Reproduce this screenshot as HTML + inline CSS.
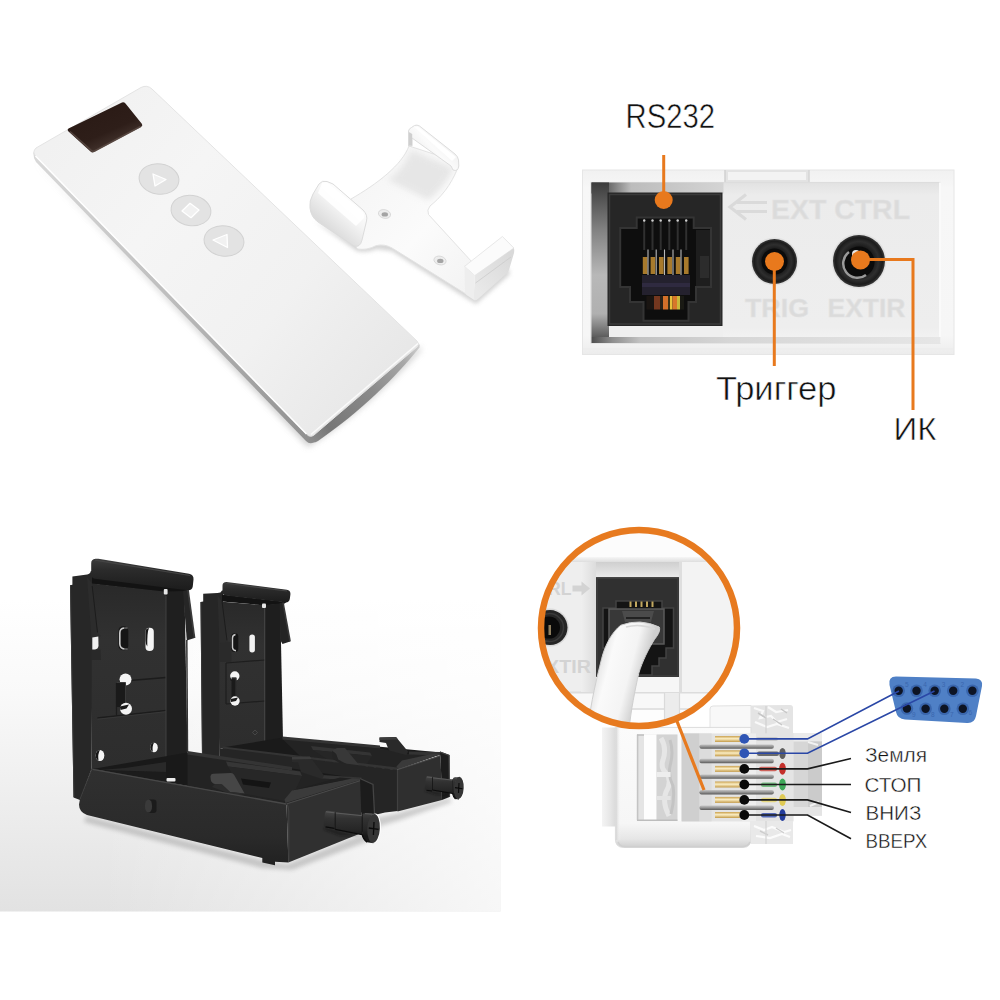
<!DOCTYPE html>
<html lang="ru">
<head>
<meta charset="utf-8">
<title>Пульт, кронштейны и разъёмы управления</title>
<style>
html,body{margin:0;padding:0;background:#fff;}
body{width:1000px;height:1000px;overflow:hidden;font-family:"Liberation Sans","DejaVu Sans",sans-serif;}
svg{display:block;}
text{font-family:"Liberation Sans","DejaVu Sans",sans-serif;}
</style>
</head>
<body>
<svg width="1000" height="1000" viewBox="0 0 1000 1000">
<rect width="1000" height="1000" fill="#fff"/>
<!-- ===== Q1: remote control and wall clip ===== -->
<defs>
<linearGradient id="rTop" gradientUnits="userSpaceOnUse" x1="60" y1="130" x2="400" y2="400">
<stop offset="0" stop-color="#f1f1f1"/><stop offset=".3" stop-color="#f5f5f5"/><stop offset=".65" stop-color="#f1f1f1"/><stop offset="1" stop-color="#e6e6e6"/>
</linearGradient>
<linearGradient id="rSide" gradientUnits="userSpaceOnUse" x1="35" y1="155" x2="311" y2="440">
<stop offset="0" stop-color="#d9d9d9"/><stop offset=".5" stop-color="#bdbdbd"/><stop offset="1" stop-color="#8f8f8f"/>
</linearGradient>
<linearGradient id="rEnd" gradientUnits="userSpaceOnUse" x1="311" y1="440" x2="420" y2="348">
<stop offset="0" stop-color="#8c8c8c"/><stop offset=".15" stop-color="#777777"/><stop offset=".55" stop-color="#8a8a8a"/><stop offset=".85" stop-color="#a8a8a8"/><stop offset="1" stop-color="#cfcfcf"/>
</linearGradient>
<linearGradient id="rScreen" gradientUnits="userSpaceOnUse" x1="95" y1="105" x2="115" y2="150">
<stop offset="0" stop-color="#2a1a15"/><stop offset=".6" stop-color="#2e1e19"/><stop offset="1" stop-color="#4a3a34"/>
</linearGradient>
<filter id="blur3" x="-20%" y="-20%" width="140%" height="140%"><feGaussianBlur stdDeviation="3"/></filter>
<filter id="blur1" x="-20%" y="-20%" width="140%" height="140%"><feGaussianBlur stdDeviation="1"/></filter>
<filter id="blur2" x="-20%" y="-20%" width="140%" height="140%"><feGaussianBlur stdDeviation="2"/></filter>
<filter id="blur6" x="-30%" y="-30%" width="160%" height="160%"><feGaussianBlur stdDeviation="6"/></filter>
</defs>
<g id="remote">
<!-- soft shadow -->
<path d="M34 160 L308 447 C345 425 395 380 421 350 L420 346 L312 438 Z" fill="#bbb" filter="url(#blur3)" opacity=".7"/>
<!-- side -->
<path d="M33.5 152 Q33 158 36 162 L306 441 Q310 445 314 442 L311 436 Z" fill="url(#rSide)"/>
<!-- end face -->
<path d="M310 436 L418.500 343 Q420.500 345 419.500 347.500 C396 377 361 411 318 441 Q312 444.500 309 440 Z" fill="url(#rEnd)"/>
<!-- top face -->
<path d="M36 148 L141 87.500 Q147 84.500 152 89 L417 341 Q420 344 417 347 L314 435 Q310 438 306.500 434 L35.500 156 Q32 152 36 148 Z" fill="url(#rTop)" stroke="#e4e4e4" stroke-width="1"/>
<path d="M311 434.500 L418 343.500" stroke="#fbfbfb" stroke-width="1.600" fill="none"/>
<!-- left highlight edge -->
<path d="M35.500 156 L306.500 434" stroke="#ffffff" stroke-width="1.500" fill="none"/>
<!-- display -->
<path d="M68.500 128.500 L122 102.500 Q124 101.800 125.500 103.500 L142 124 Q143 126 141 127 L94 152 Q92 153 90.500 151.500 L68 131 Q67 129.500 68.500 128.500 Z" fill="url(#rScreen)"/>
<path d="M70 131.500 L92 151 Q93.500 152 95.500 150.500 L140.500 126.500" stroke="#5b4b45" stroke-width="1.600" fill="none" opacity=".8"/>
<!-- buttons -->
<g fill="#e3e3e3" stroke="#d2d2d2" stroke-width="1">
<ellipse cx="159" cy="179" rx="20" ry="15.200" transform="rotate(8 159 179)"/>
<ellipse cx="191" cy="210.500" rx="20" ry="15.200" transform="rotate(8 191 210.500)"/>
<ellipse cx="224" cy="241" rx="20" ry="15.200" transform="rotate(8 224 241)"/>
</g>
<g fill="#f1f1f1" stroke="#ffffff" stroke-width="1.300" stroke-linejoin="round">
<path d="M153 174 L166 179.500 L155 186 Z"/>
<path d="M190 203.300 L199 210 L191 217.700 L182 211 Z"/>
<path d="M213 240 L227 234.500 L227.500 247.500 Z"/>
</g>
</g>
<g id="clip">
<defs>
<linearGradient id="cBody" gradientUnits="userSpaceOnUse" x1="360" y1="190" x2="470" y2="290">
<stop offset="0" stop-color="#f6f6f6"/><stop offset=".5" stop-color="#fbfbfb"/><stop offset="1" stop-color="#f3f3f3"/>
</linearGradient>
<linearGradient id="cStem" gradientUnits="userSpaceOnUse" x1="405" y1="150" x2="440" y2="200">
<stop offset="0" stop-color="#f2f2f2"/><stop offset=".45" stop-color="#e4e4e4"/><stop offset="1" stop-color="#f8f8f8" stop-opacity="0"/>
</linearGradient>
<linearGradient id="cHookL" gradientUnits="userSpaceOnUse" x1="352" y1="196" x2="326" y2="226">
<stop offset="0" stop-color="#ffffff"/><stop offset=".45" stop-color="#f4f4f4"/><stop offset="1" stop-color="#dcdcdc"/>
</linearGradient>
<linearGradient id="cHookT" gradientUnits="userSpaceOnUse" x1="420" y1="160" x2="446" y2="136">
<stop offset="0" stop-color="#ececec"/><stop offset=".5" stop-color="#fbfbfb"/><stop offset="1" stop-color="#f0f0f0"/>
</linearGradient>
<linearGradient id="cFront" gradientUnits="userSpaceOnUse" x1="476" y1="290" x2="512" y2="255">
<stop offset="0" stop-color="#e9e9e9"/><stop offset="1" stop-color="#d9d9d9"/>
</linearGradient>
</defs>
<!-- shadow under plate -->
<path d="M314 221 L357 251 Q367 253 377 249 L392 251 L466 298 L476 304 L510 274 L508 268 L470 290 L392 244 L350 240 Z" fill="#c4c4c4" filter="url(#blur2)" opacity=".75"/>
<!-- base plate (T shape) -->
<path d="M409 146 C402 165 377 184 351 199 L340 225 L357.500 249 Q367 250.500 376 245.700 Q384 243.500 392 248 L466 294 L472 262 L428.500 214.500 Q426.500 210 430 206 C440 198 451 186 458.500 166 L452 160 Z" fill="url(#cBody)" stroke="#e3e3e3" stroke-width="1"/>
<!-- curved stem shading -->
<path d="M411 150 C405 165 397 173 388 180 L428 200 C438 193 448 182 454 168 Z" fill="#e2e2e2" filter="url(#blur3)" opacity=".8"/>
<!-- upper right hook -->
<path d="M408.500 131 Q409 128.500 411.500 127.500 L414.500 125.500 Q417 124.500 419.500 126 L455 154 Q458 156.500 458.500 160 L458.800 166 Q458 172 453 170 L451 166 L412 138 L412 146 L408.500 146 Z" fill="url(#cHookT)" stroke="#dddddd" stroke-width="1"/>
<path d="M408.800 132 L412.200 134 L412.200 145.500 L408.800 145.500 Z" fill="#cfcfcf"/>
<path d="M414 127 L418 126.500 L456 157 L452 161 Z" fill="#ffffff"/>
<!-- left hook -->
<path d="M310 208 Q309 201 313 194 L319 184 Q322 180 327 181.500 L333 184 L363 210 Q368 215 366.500 221 L362 240 Q360 248 354 246 L318 222 Q311 217 310 208 Z" fill="url(#cHookL)" stroke="#dcdcdc" stroke-width="1"/>
<path d="M322 183 Q325 181.500 328 183 L363 212 Q365 215 364 218 L356 226 L318 193 Z" fill="#ffffff" opacity=".9"/>
<!-- right hook -->
<path d="M464.500 266.400 L502.400 236.500 L513.900 248 L474.800 275.600 Z" fill="#fbfbfb" stroke="#e2e2e2" stroke-width=".8"/>
<path d="M474.800 275.600 L513.900 248 Q514.500 250 514 253 L509 270 Q508 273 505 275 L478 299 Q475.500 301 474.800 300 Z" fill="url(#cFront)"/>
<path d="M464.500 266.400 L474.800 275.600 L474.800 300.500 L466.500 295 Q465 294 465 292 Z" fill="#eeeeee"/>
<path d="M475.500 283 L511 257" stroke="#cccccc" stroke-width=".8" fill="none"/>
<!-- holes -->
<ellipse cx="384.500" cy="214" rx="6.200" ry="4.300" fill="#ededed" stroke="#d6d6d6" stroke-width=".8" transform="rotate(14 384.500 214)"/>
<ellipse cx="384.800" cy="214.400" rx="3.200" ry="2.200" fill="#a4a4a4"/>
<ellipse cx="440" cy="260.500" rx="6.200" ry="4.300" fill="#ededed" stroke="#d6d6d6" stroke-width=".8" transform="rotate(14 440 260.500)"/>
<ellipse cx="440.300" cy="260.900" rx="3.200" ry="2.200" fill="#a4a4a4"/>
</g>

<!-- ===== Q2: panel with RS232 / trigger / IR ===== -->
<defs>
<linearGradient id="pOuter" x1="0" y1="0" x2="0" y2="1">
<stop offset="0" stop-color="#f1f1f1"/><stop offset=".1" stop-color="#f7f7f7"/><stop offset=".9" stop-color="#f6f6f6"/><stop offset="1" stop-color="#ececec"/>
</linearGradient>
<linearGradient id="pInner" x1="0" y1="0" x2="0" y2="1">
<stop offset="0" stop-color="#e2e2e2"/><stop offset=".08" stop-color="#ececec"/><stop offset=".9" stop-color="#eeeeee"/><stop offset="1" stop-color="#f4f4f4"/>
</linearGradient>
<linearGradient id="pRecL" x1="0" y1="0" x2="0" y2="1">
<stop offset="0" stop-color="#3c3c3c"/><stop offset=".3" stop-color="#808080"/><stop offset=".6" stop-color="#b8b8b8"/><stop offset=".85" stop-color="#b0b0b0"/><stop offset="1" stop-color="#5c5c5c"/>
</linearGradient>
<linearGradient id="pRecT" x1="0" y1="0" x2="1" y2="0">
<stop offset="0" stop-color="#3c3c3c"/><stop offset=".13" stop-color="#6a6a6a"/><stop offset=".3" stop-color="#bcbcbc"/><stop offset="1" stop-color="#d4d4d4"/>
</linearGradient>
<linearGradient id="pRecB" x1="0" y1="0" x2="1" y2="0">
<stop offset="0" stop-color="#4e4e4e"/><stop offset=".06" stop-color="#8e8e8e"/><stop offset=".14" stop-color="#c2c2c2"/><stop offset=".4" stop-color="#d6d6d6"/><stop offset="1" stop-color="#e6e6e6"/>
</linearGradient>
<radialGradient id="jack" cx=".5" cy=".5" r=".5">
<stop offset="0" stop-color="#0c0c0c"/><stop offset=".55" stop-color="#1a1a1a"/><stop offset=".75" stop-color="#2e2e2e"/><stop offset=".9" stop-color="#1c1c1c"/><stop offset="1" stop-color="#3a3a3a"/>
</radialGradient>
</defs>
<g id="panel">
<!-- outer body -->
<rect x="582.500" y="170" width="371.500" height="184.500" fill="url(#pOuter)"/>
<rect x="582.500" y="170" width="371.500" height="184.500" fill="none" stroke="#e6e6e6" stroke-width="1"/>
<!-- top notch step -->
<rect x="725" y="170" width="84" height="12.500" fill="#e3e3e3"/>
<rect x="728" y="172" width="78" height="8" fill="#f3f3f3"/>
<path d="M809 170 V182.500" stroke="#d5d5d5" stroke-width="1.500"/>
<path d="M725 170 V182.500" stroke="#d0d0d0" stroke-width="1.500"/>
<!-- inner recess -->
<rect x="591" y="182.500" width="349" height="160.500" fill="url(#pInner)"/>
<rect x="591" y="182.500" width="349" height="160.500" fill="none" stroke="#dddddd" stroke-width="1.200"/>
<!-- right inner edge highlight -->
<path d="M940 182.500 V343" stroke="#fafafa" stroke-width="2" fill="none"/>

<path d="M583 349 H953" stroke="#ececec" stroke-width="1.500" fill="none"/>
<!-- recess shadow left of socket -->
<rect x="591.500" y="182.500" width="132" height="11" fill="url(#pRecT)"/>
<path d="M591.500 182.500 H609 V337 H591.500 Z" fill="url(#pRecL)"/>
<rect x="609" y="325.500" width="114" height="11.500" fill="#efefef"/>
<rect x="591.500" y="337" width="349" height="6" fill="url(#pRecB)"/>
<!-- socket -->
<rect x="607.500" y="192.500" width="115" height="133.500" fill="#262626"/>
<rect x="609.500" y="194.500" width="111" height="129.500" fill="none" stroke="#3a3a3a" stroke-width="1.500"/>
<!-- socket cavity -->
<path d="M620.200 228 H636.700 V217.500 H693.700 V228 H711 V287 H696 V302 H688.500 V320.700 H643.500 V302 H630 V287 H620.200 Z" fill="#0e0e0e"/>
<path d="M620.200 228 H636.700 V217.500 H693.700 V228 H711 V287 H696 V302 H688.500 V320.700 H643.500 V302 H630 V287 H620.200 Z" fill="none" stroke="#343434" stroke-width="2"/>
<rect x="696" y="230" width="14" height="56" fill="#1e1e1e"/>
<rect x="700" y="256" width="9" height="22" fill="#2c2c2c"/>
<!-- comb teeth -->
<g stroke="#303030" stroke-width="2">
<path d="M644.200 220 V250 M652.500 220 V250 M660.700 220 V250 M669.300 220 V250 M677.700 220 V250 M686.200 220 V250"/>
</g>
<g fill="#cfcfcf">
<circle cx="644.200" cy="220.500" r="1.200"/><circle cx="652.500" cy="220.500" r="1.200"/><circle cx="660.700" cy="220.500" r="1.200"/><circle cx="669.300" cy="220.500" r="1.200"/><circle cx="677.700" cy="220.500" r="1.200"/><circle cx="686.200" cy="220.500" r="1.200"/>
</g>
<!-- gold contacts -->
<g fill="#a87a2c">
<rect x="642.800" y="257" width="4.600" height="17"/><rect x="650.600" y="257" width="4.600" height="17"/><rect x="659" y="257" width="4.600" height="17"/><rect x="667.400" y="257" width="4.600" height="17"/><rect x="675.800" y="257" width="4.600" height="17"/><rect x="684" y="257" width="4.600" height="17"/>
</g>
<g stroke="#b9b9b9" stroke-width="1.100">
<path d="M648 249.500 V276 M656.200 249.500 V276 M664.500 249.500 V276 M673 249.500 V276 M681 249.500 V276"/>
</g>
<rect x="642" y="275" width="48" height="20" fill="#24212e"/>
<rect x="642" y="283" width="48" height="4" fill="#2f2a40"/>
<!-- coloured wires at the bottom -->
<rect x="646.500" y="296" width="7.500" height="13.500" fill="#1a1512"/>
<rect x="654" y="296" width="6" height="13.500" fill="#74371f"/>
<rect x="660" y="296" width="3" height="13.500" fill="#2a2218"/>
<rect x="663" y="296" width="5" height="13.500" fill="#d4702a"/>
<rect x="668" y="296" width="2" height="13.500" fill="#3a3218"/>
<rect x="670" y="296" width="2.500" height="13.500" fill="#e6c23c"/>
<rect x="672.500" y="296" width="4.500" height="13.500" fill="#d8762a"/>
<rect x="677" y="296" width="3" height="13.500" fill="#c8b83a"/>
<rect x="680" y="296" width="4" height="13.500" fill="#1a1a14"/>
<!-- embossed labels -->
<g fill="#dbdbdb" font-weight="bold" font-size="27" stroke="#e3e3e3" stroke-width=".6">
<text x="771" y="218.500" textLength="139" lengthAdjust="spacingAndGlyphs">EXT CTRL</text>
<text x="745" y="317" textLength="64" lengthAdjust="spacingAndGlyphs" font-size="26">TRIG</text>
<text x="827.500" y="317" textLength="78" lengthAdjust="spacingAndGlyphs" font-size="26">EXTIR</text>
</g>
<!-- embossed arrow -->
<g fill="none" stroke="#dadada" stroke-width="3.200" stroke-linejoin="miter">
<path d="M746 194.500 L730 207 L746 219.500"/>
<path d="M737 202.500 H767 M737 211.500 H767"/>
</g>
<!-- jacks -->
<circle cx="774.500" cy="261.500" r="24" fill="#e1e1e1"/>
<circle cx="774.500" cy="261.500" r="22.500" fill="url(#jack)"/>
<circle cx="774.500" cy="261.500" r="13" fill="#0b0b0b"/>
<circle cx="859" cy="261" r="27.500" fill="#e1e1e1"/>
<circle cx="859" cy="261" r="26" fill="url(#jack)"/>
<circle cx="859" cy="262" r="15.500" fill="#0b0b0b"/>
<path d="M849 252 A14 14 0 0 0 866 275" stroke="#9a9a9a" stroke-width="2.500" fill="none"/>
<circle cx="856" cy="254" r="4" fill="#e8e8e8"/>
</g>
<!-- callouts -->
<g fill="#e8791d" stroke="#e8791d">
<path d="M663.700 155 V200" stroke-width="3" fill="none"/>
<circle cx="663.700" cy="200" r="9" stroke="none"/>
<path d="M774.300 262 V366" stroke-width="3" fill="none"/>
<circle cx="774.500" cy="261.500" r="9.500" stroke="none"/>
<path d="M860.500 259.500 H913 V410" stroke-width="3" fill="none"/>
<circle cx="860.500" cy="260" r="9.500" stroke="none"/>
</g>
<g fill="#111" font-size="34" stroke="#ffffff" stroke-width=".55" paint-order="fill stroke">
<text x="625.500" y="128" textLength="89.500" lengthAdjust="spacingAndGlyphs" font-size="35.500">RS232</text>
<text x="716" y="399.500" textLength="120.500" lengthAdjust="spacingAndGlyphs" font-size="33.500">Триггер</text>
<text x="893.500" y="440" textLength="43" lengthAdjust="spacingAndGlyphs" font-size="31.500">ИК</text>
</g>

<!-- ===== Q3: black mounting brackets ===== -->
<defs>
<linearGradient id="bgV" gradientUnits="userSpaceOnUse" x1="0" y1="600" x2="0" y2="911">
<stop offset="0" stop-color="#ffffff"/><stop offset=".3" stop-color="#f9f9f9"/><stop offset=".7" stop-color="#ececec"/><stop offset="1" stop-color="#e2e2e2"/>
</linearGradient>
<linearGradient id="bgH" gradientUnits="userSpaceOnUse" x1="100" y1="0" x2="500" y2="0">
<stop offset="0" stop-color="#ffffff" stop-opacity="0"/><stop offset="1" stop-color="#ffffff" stop-opacity=".72"/>
</linearGradient>
<linearGradient id="lipG" x1="0" y1="0" x2="0" y2="1">
<stop offset="0" stop-color="#3d3d3d"/><stop offset=".35" stop-color="#2b2b2b"/><stop offset="1" stop-color="#1c1c1c"/>
</linearGradient>
<linearGradient id="panelG" x1="0" y1="0" x2="0" y2="1">
<stop offset="0" stop-color="#292929"/><stop offset=".3" stop-color="#313131"/><stop offset="1" stop-color="#2d2d2d"/>
</linearGradient>
<linearGradient id="frontG" x1="0" y1="0" x2="0" y2="1">
<stop offset="0" stop-color="#303030"/><stop offset=".7" stop-color="#2a2a2a"/><stop offset="1" stop-color="#212121"/>
</linearGradient>
<linearGradient id="endG" x1="0" y1="0" x2="1" y2="0">
<stop offset="0" stop-color="#2a2a2a"/><stop offset="1" stop-color="#232323"/>
</linearGradient>
<linearGradient id="screwG" x1="0" y1="0" x2="0" y2="1">
<stop offset="0" stop-color="#3a3a3a"/><stop offset=".4" stop-color="#222"/><stop offset="1" stop-color="#0e0e0e"/>
</linearGradient>
<linearGradient id="sh1" gradientUnits="userSpaceOnUse" x1="0" y1="811" x2="0" y2="836">
<stop offset="0" stop-color="#474747"/><stop offset=".3" stop-color="#323232"/><stop offset=".75" stop-color="#262626"/><stop offset="1" stop-color="#181818"/>
</linearGradient>
<linearGradient id="sh2" gradientUnits="userSpaceOnUse" x1="0" y1="776" x2="0" y2="795">
<stop offset="0" stop-color="#474747"/><stop offset=".3" stop-color="#323232"/><stop offset=".75" stop-color="#262626"/><stop offset="1" stop-color="#181818"/>
</linearGradient>
</defs>
<g id="q3bg">
<rect x="0" y="600" width="500.500" height="311.500" fill="url(#bgV)"/>
<rect x="100" y="600" width="400.500" height="311.500" fill="url(#bgH)"/>
</g>
<!-- ground shadows -->
<g filter="url(#blur2)" opacity=".32">
<path d="M86 816 L262 860 L288 864 L362 834 L374 818 L398 813 L449 798 L452 802 L400 820 L380 826 L366 842 L292 870 L262 868 L84 822 Z" fill="#6f6f6f"/>
</g>
<!-- ===== second (rear) bracket ===== -->
<g id="bracket2">
<!-- left wall -->
<path d="M200.500 602 L203.200 601.400 L203.200 593.700 L217.500 593.100 Q221 593 222 590.500 L223 590.500 L223 602 L219.500 760 L202 758 Z" fill="#262626"/>
<path d="M201 602 L202.500 757" stroke="#363636" stroke-width="1"/>
<!-- underside of lip -->
<path d="M222 594.500 L286.800 602 L283 604.500 L262.600 605.200 L222 601.400 Z" fill="#131313"/>
<!-- back panel -->
<path d="M219.500 601.400 L264.800 605.200 L264.800 748 L219.500 748 Z" fill="url(#panelG)"/>
<!-- left flange wedge -->
<path d="M217.500 595.300 L222 601.400 L227 640.400 L228.500 641.500 L219.500 643 Z" fill="#2c2c2c"/>
<path d="M222 601.400 L227 640.400" stroke="#1c1c1c" stroke-width="1" fill="none"/>
<!-- raised sub panel -->
<path d="M219.500 645.500 Q219.500 642.800 222 642.600 L231.500 641.800 L231.500 662 L219.500 662 Z" fill="#2a2a2a"/>
<path d="M226 663 L264.800 660 M226 663 V704 M226 704 L264.800 701" stroke="#1e1e1e" stroke-width="1.200" fill="none"/>
<!-- right wall -->
<path d="M264.800 605 L280.200 603.500 L283 740 L264.800 748 Z" fill="#1e1e1e"/>
<path d="M264.800 607 V746" stroke="#3e3e3e" stroke-width="1"/>
<!-- right flange -->
<path d="M279.700 603 L283 602.500 L290.100 641.500 L282.500 644 L280.200 640 Z" fill="#242424"/>
<path d="M283 602.500 L290.100 641.500" stroke="#383838" stroke-width="1.600"/>
<!-- lip -->
<path d="M222.500 586 Q222.300 582 226.500 582 L286.800 589.800 Q290.800 590.600 290.400 594.500 L289.800 599 Q289 602.800 285 602.300 L226 595.500 Q222.500 595 222.500 592 Z" fill="url(#lipG)"/>
<path d="M226 583.300 L287 591" stroke="#454545" stroke-width="1.100" fill="none"/>
<!-- slots -->
<rect x="231.300" y="633.300" width="7" height="18.700" rx="3.300" fill="#151515"/>
<path d="M235.500 634.500 Q232.500 635 232.500 638 L232.500 647.500 Q232.700 650.500 236 650.800" stroke="#c9c9c9" stroke-width="1.400" fill="none"/>
<rect x="249.400" y="634.400" width="5.500" height="18.100" rx="2.700" fill="#f2f2f2"/>
<!-- keyhole -->
<circle cx="234.800" cy="676" r="4.700" fill="#f4f4f4"/>
<path d="M230 676.500 A5 5 0 0 0 236 680.800 L230.500 680.500 Z" fill="#171717"/>
<rect x="231.500" y="677.500" width="5" height="22" fill="#1a1a1a"/>
<path d="M232 678 H236 V699" stroke="#3e3e3e" stroke-width=".8" fill="none"/>
<circle cx="235" cy="701" r="4.700" fill="#f4f4f4"/>
<path d="M230.500 699 L238 697.500 L236 701 L231 702 Z" fill="#1a1a1a"/>
<!-- small white gap under lip -->
<rect x="262" y="603.500" width="4" height="4.500" rx="1" fill="#e6e6e6"/>
<!-- diamond mark -->
<path d="M255 730 l2.500 2.500 l-2.500 2.500 l-2.500 -2.500 Z" fill="none" stroke="#4c4c4c" stroke-width=".8"/>
<!-- tray 2: interior -->
<path d="M222.500 747.500 L282.500 737.500 L441 752.500 L397.500 769 Z" fill="#1a1a1a"/>
<!-- far wall inner face -->
<path d="M282.500 739 L380 748.500 L409 754 L439 755 L400 768.500 L300 756 Z" fill="#232323"/>
<!-- inner insert -->
<path d="M311 746 L370 752.500 L372 756 L313 750 Z" fill="#343434"/>
<path d="M313 750 L372 756 L366 765 L330 761 Z" fill="#262626"/>
<!-- back rim -->
<path d="M282.500 736.500 L380 745.500 L380 748.500 L282.500 739.500 Z" fill="#333333"/>
<path d="M409 751.500 L441 752 L441 755.500 L409 754.500 Z" fill="#333333"/>
<!-- latch on back rim -->
<path d="M379.500 737.500 L396 737 L408 751.500 L406.500 755 L389 750.500 L386 743 L379.500 742 Z" fill="#2a2a2a"/>
<path d="M379.500 737.500 L396 737 L398 739.500 L379.500 740 Z" fill="#3c3c3c"/>
<!-- inner lip at the end -->
<path d="M396.500 766.500 L402 760.500 L434 753.500 L441 754 L397.500 769.500 Z" fill="#3a3a3a"/>
<!-- front rim -->
<path d="M222.500 746.500 L397.500 767.500 L397.500 770.500 L222.500 749.500 Z" fill="#343434"/>
<!-- latch on front rim -->
<path d="M332 750.500 L337 748 L345 748 L359.500 765.500 L352 767 L338 759.500 L336 754 Z" fill="#383838"/>
<path d="M332 750.500 L336 754 L338 759.500 L352 767 L346 767 L333 759 Z" fill="#242424"/>
<!-- front wall (visible part) -->
<path d="M219.500 748 L397.500 770 L397.500 811 L385 812.500 L374.500 815 L300 800 L219.500 770 Z" fill="#252525"/>
<!-- end face -->
<path d="M397.500 769.500 L440.500 755.500 L442 800 L397.500 811.500 Z" fill="#2f2f2f"/>
<path d="M397.500 769.500 V811" stroke="#404040" stroke-width="1.200"/>
<path d="M398 769.500 L440.500 755.800" stroke="#4a4a4a" stroke-width="1.200"/>
<!-- outer shell -->
<path d="M440 751.500 L449.500 755 L449.500 797 L442 800 L440.500 756 Z" fill="#1c1c1c"/>
<path d="M440 752 L449 755.500 L449.500 797" stroke="#404040" stroke-width="1.200" fill="none"/>
<!-- screw 2 -->
<path d="M425 789.500 L433 791 L451 795 L436 795 L425 791.500 Z" fill="#101010" opacity=".4" filter="url(#blur1)"/>
<rect x="425.300" y="776.300" width="7.500" height="14" rx="2" fill="url(#sh2)" transform="rotate(7 429 783)"/>
<path d="M432.500 777.300 L452.500 779.500 L452.500 793.500 L432.500 790 Z" fill="url(#sh2)"/>
<path d="M452.500 779.500 Q453 777.300 455.500 777.300 L459 777.600 L459 799.600 L455.500 799 Q453 796.500 452.500 793.500 Z" fill="url(#sh2)"/>
<path d="M432.500 777.300 V790 M452.500 779.500 V793.500" stroke="#141414" stroke-width=".8"/>
<path d="M426.500 790.300 L432 791 M432.500 790 L452.500 793.500 Q453 796.500 455.500 799" stroke="#0c0c0c" stroke-width="1.100" fill="none"/>
<path d="M427 777 L432 777.600 M433 777.900 L452.300 780.100 M454.500 777.800 L458.500 778.200" stroke="#5c5c5c" stroke-width=".9" fill="none"/>
<ellipse cx="459.600" cy="788" rx="5" ry="11.300" fill="#ffffff" transform="rotate(3 459.600 788)"/>
<ellipse cx="458.800" cy="788" rx="4.900" ry="11.200" fill="#353535" transform="rotate(3 458.800 788)"/>
<path d="M455 787.600 L462.500 788.700 M459 783 L458.500 793" stroke="#0a0a0a" stroke-width="1.100"/>
</g>
<!-- ===== first (front) bracket ===== -->
<g id="bracket1">
<!-- left wall -->
<path d="M70 585.200 L72.400 584.800 L72.400 576.400 L87.200 574.400 Q90.500 574 90.800 571 L93 571 L93 584 L91.500 769 L80 800 L73.500 797.500 Z" fill="#272727"/>
<path d="M70.500 585.500 L74 797" stroke="#383838" stroke-width="1"/>
<!-- underside of lip -->
<path d="M92 577 L187.500 589 L186 593 L165 592.500 L92 584 Z" fill="#131313"/>
<!-- back panel -->
<path d="M92 583.600 L166 591.800 L166 772 L91.500 770 Z" fill="url(#panelG)"/>
<!-- left flange wedge -->
<path d="M87 577 L92.200 583.600 L92.200 586 L97.500 632.500 L100.500 635.500 L100.500 637 L91.500 638.500 Z" fill="#2c2c2c"/>
<path d="M92.200 586 L97.500 632.500" stroke="#1c1c1c" stroke-width="1" fill="none"/>
<path d="M91.500 649.500 L100.500 649.500 L101 660 L91.500 660 Z" fill="#292929"/>
<!-- raised sub panel lines -->
<path d="M130 680.500 L166 677.500 M116.500 683 V716.500 M97.500 718 L166 710.500" stroke="#1c1c1c" stroke-width="1.300" fill="none"/>
<path d="M97.500 719.200 L166 711.700" stroke="#3a3a3a" stroke-width=".8" fill="none"/>
<!-- white notch hole at left -->
<path d="M92.300 637.500 L98.300 636.500 L98.500 646 Q98 649 95 649.500 L92.300 649.500 Z" fill="#f1f1f1"/>
<!-- slots -->
<rect x="118.500" y="626.300" width="9.800" height="24" rx="4.500" fill="#151515"/>
<path d="M124 628 Q119.800 628.500 119.800 633 L119.800 644 Q120 648.500 124.500 649" stroke="#c9c9c9" stroke-width="1.600" fill="none"/>
<path d="M124 628 H127.500 M124.500 649 H127.500" stroke="#8a8a8a" stroke-width="1.200" fill="none"/>
<rect x="145.500" y="627.800" width="8.300" height="23.200" rx="4.100" fill="#f4f4f4"/>
<path d="M145.500 640 V632 A4.100 4.100 0 0 1 149 627.900 Q147 632 147.300 646.500 Q145.500 644 145.500 640 Z" fill="#151515"/>
<!-- keyhole -->
<circle cx="125.500" cy="679.500" r="6" fill="#f4f4f4"/>
<path d="M119.500 680 A6 6 0 0 0 126.500 685.500 L119.500 685 Z" fill="#171717"/>
<rect x="116" y="682" width="10" height="25" rx="1.500" fill="#1a1a1a"/>
<path d="M116.500 682.500 H125.500 V706" stroke="#3e3e3e" stroke-width=".9" fill="none"/>
<circle cx="126" cy="708.700" r="6" fill="#f4f4f4"/>
<path d="M119.800 706.500 L129 704.500 L126.500 708.500 L120.500 710 Z" fill="#1a1a1a"/>
<!-- bottom holes -->
<ellipse cx="100" cy="755.500" rx="4.300" ry="5.500" fill="#f4f4f4"/>
<path d="M95.700 755.500 A4.300 5.500 0 0 1 100 750 Q97.500 754 98.500 760.500 Q95.700 759 95.700 755.500 Z" fill="#151515"/>
<ellipse cx="154" cy="747.500" rx="3.800" ry="4.800" fill="#f4f4f4"/>
<path d="M150.200 747.500 A3.800 4.800 0 0 1 154 742.700 Q152 746 152.800 752 Q150.200 750.500 150.200 747.500 Z" fill="#151515"/>
<!-- right wall -->
<path d="M166 591.500 L184.500 591 L187.500 753 L166 772 Z" fill="#1f1f1f"/>
<path d="M166 596 V770" stroke="#404040" stroke-width="1"/>
<path d="M186.800 640 L187.500 752" stroke="#343434" stroke-width="1.500"/>
<!-- right flange -->
<path d="M183 591 L188 590 L194.500 638 L186.800 640.500 Z" fill="#262626"/>
<path d="M188 590 L194.500 638" stroke="#3a3a3a" stroke-width="1.800"/>
<!-- small white gap under lip -->
<rect x="163.800" y="589" width="3.800" height="5.500" rx="1" fill="#e6e6e6"/>
<!-- lip -->
<path d="M91.200 563.500 Q91 559.300 95.500 558.800 L98.400 558.800 L189 573.750 Q194 575 193.500 579.500 L192.750 586.500 Q192 590.800 187.500 590.250 L95 578.800 Q91.200 578 91.200 574.500 Z" fill="url(#lipG)"/>
<path d="M95 560.200 L190 575.500" stroke="#454545" stroke-width="1.200" fill="none"/>
<!-- tray 1: interior -->
<path d="M92.500 769 L187.500 752.500 L361.500 779 L285 803.500 Z" fill="#191919"/>
<!-- far wall inner face -->
<path d="M187.500 754 L301 771 L322 778 L359.500 782 L359.500 786 L292 806 L187.500 786 Z" fill="#232323"/>
<!-- floor under back panel -->
<path d="M91.500 770 L166 772 L166 782 L92.500 770 Z" fill="#1c1c1c"/>
<path d="M125 768 L166 762 L166 772 L100 770 Z" fill="#3a3a3a" opacity=".5"/>
<!-- inner insert -->
<path d="M226 761.500 L300 771.500 L302 776 L228 766.500 Z" fill="#363636"/>
<path d="M228 766.500 L302 776 L290 802 L243 793.500 L232 774 Z" fill="#272727"/>
<path d="M241 778.500 L271 782.500 L269 788 L243 784.500 Z" fill="#141414"/>
<!-- back rim -->
<path d="M187.500 751 L292 767 L292 770.500 L187.500 754.500 Z" fill="#343434"/>
<path d="M322 775 L361.500 777.500 L361.500 781 L322 778.500 Z" fill="#343434"/>
<!-- latch on back rim -->
<path d="M292 757 L310 756.500 L324 775.500 L322 779 L301 772 L298 762.500 L292 762 Z" fill="#2a2a2a"/>
<path d="M292 757 L310 756.500 L312 759 L292 759.500 Z" fill="#3c3c3c"/>
<!-- inner lip at the end -->
<path d="M284.500 799.500 L292 790.500 L352 778.500 L361.500 779.500 L285.500 803 Z" fill="#3b3b3b"/>
<path d="M292 790.500 L340 777.500 L352 778.500 Z" fill="#202020"/>
<!-- front latch -->
<path d="M210.400 776.500 Q210.600 774 213 773.800 L231 773 Q233 773 234.200 775 L244.600 793.600 L230 792 L222 784.500 L215 784 Q211.500 783 210.800 780 Z" fill="#464646"/>
<path d="M215 784 L222 784.500 L230 792 L244.600 793.600 L236 796 L212 787 Z" fill="#2c2c2c"/>
<!-- small white gap -->
<rect x="166.500" y="778" width="9" height="3.500" rx="1" fill="#ececec"/>
<!-- front face -->
<path d="M92 768.500 L286.500 803.500 L288.400 862.600 L275 861.700 L275 865.300 L262.300 862.600 L262.300 858 L87 815 Q79 812 79 804.500 L80 799 Z" fill="url(#frontG)"/>
<path d="M92.500 769.300 L286 804" stroke="#484848" stroke-width="1.300" fill="none"/>
<path d="M92 768.500 L80 799" stroke="#3c3c3c" stroke-width="1" fill="none"/>
<!-- knob on front -->
<rect x="147" y="799.500" width="9.500" height="13.500" rx="3" fill="#1b1b1b"/>
<ellipse cx="148.500" cy="806" rx="3.600" ry="6.600" fill="#3a3a3a"/>
<!-- end face -->
<path d="M286.500 803.500 L361.500 780 L361.500 833 L288.400 862.600 Z" fill="#303030"/>
<path d="M286.500 803.500 Q288.500 806 288.800 812 L288.800 862" stroke="#404040" stroke-width="1.200" fill="none"/>
<path d="M287 803.800 L361.500 780.300" stroke="#4a4a4a" stroke-width="1.200" fill="none"/>
<!-- outer shell strip -->
<path d="M360 778 L373 784 L374.500 813 L361.500 817 Z" fill="#1c1c1c"/>
<path d="M360 778.500 L373 784.500 L374.500 813" stroke="#444" stroke-width="1.300" fill="none"/>
<path d="M361.500 817 L374.500 813 L374.500 818 L361.500 833 Z" fill="#1f1f1f"/>
<!-- screw 1 -->
<path d="M324 827 L336 830 L360 836 L340 836 L324 830 Z" fill="#101010" opacity=".4" filter="url(#blur1)"/>
<rect x="324.300" y="811" width="11.200" height="16.500" rx="2.500" fill="url(#sh1)" transform="rotate(7 330 819)"/>
<path d="M335.200 812.200 L362.200 815 L362.200 834.700 L335.200 829.300 Z" fill="url(#sh1)"/>
<path d="M362.200 815 Q362.800 812.800 366.500 813 L373.500 813.600 L373.500 843.200 L367 842.300 Q363 839 362.200 834.700 Z" fill="url(#sh1)"/>
<path d="M335.200 812.200 V829.300 M362.200 815 V834.700" stroke="#141414" stroke-width=".9"/>
<path d="M325.500 826.800 L334.500 828.300 M335.200 829.300 L362.200 834.700 Q363 839 367 842.300" stroke="#0c0c0c" stroke-width="1.300" fill="none"/>
<path d="M326 811.800 L334.500 812.800 M335.800 813 L362 815.700 M365 813.600 L372 814.200" stroke="#5c5c5c" stroke-width="1" fill="none"/>
<ellipse cx="374.600" cy="828.400" rx="6.400" ry="14.800" fill="#ffffff" transform="rotate(3 374.600 828.400)"/>
<ellipse cx="373.600" cy="828.400" rx="6.300" ry="14.500" fill="#353535" transform="rotate(3 373.600 828.400)"/>
<path d="M368.800 828 L378.600 829.400 M374 822 L373.400 835" stroke="#0a0a0a" stroke-width="1.300"/>
</g>

<!-- ===== Q4: RJ plug pin-out ===== -->
<defs>
<clipPath id="zoomClip"><circle cx="639" cy="628" r="98"/></clipPath>
<linearGradient id="zTop" x1="0" y1="0" x2="0" y2="1"><stop offset="0" stop-color="#f6f6f6"/><stop offset="1" stop-color="#dedede"/></linearGradient>
<linearGradient id="zRec" x1="0" y1="0" x2="0" y2="1"><stop offset="0" stop-color="#cfcfcf"/><stop offset="1" stop-color="#ebebeb"/></linearGradient>
<linearGradient id="zRecL" x1="0" y1="0" x2="1" y2="0"><stop offset="0" stop-color="#efefef"/><stop offset="1" stop-color="#dcdcdc"/></linearGradient>
<linearGradient id="cable" gradientUnits="userSpaceOnUse" x1="595" y1="672" x2="641" y2="684">
<stop offset="0" stop-color="#e2e2e2"/><stop offset=".25" stop-color="#fafafa"/><stop offset=".7" stop-color="#f4f4f4"/><stop offset="1" stop-color="#cfcfcf"/>
</linearGradient>
<linearGradient id="plugBody" x1="0" y1="0" x2="0" y2="1">
<stop offset="0" stop-color="#fbfbfb"/><stop offset=".8" stop-color="#f6f6f6"/><stop offset=".93" stop-color="#e6e6e6"/><stop offset="1" stop-color="#cfcfcf"/>
</linearGradient>
<linearGradient id="latchG" x1="0" y1="0" x2="1" y2="0"><stop offset="0" stop-color="#f4f4f4"/><stop offset=".6" stop-color="#e6e6e6"/><stop offset="1" stop-color="#d9d9d9"/></linearGradient>
<linearGradient id="frL" x1="0" y1="0" x2="1" y2="0"><stop offset="0" stop-color="#d4d4d4"/><stop offset="1" stop-color="#f8f8f8" stop-opacity="0"/></linearGradient>
<linearGradient id="gold" x1="0" y1="0" x2="0" y2="1">
<stop offset="0" stop-color="#c9a04e"/><stop offset=".45" stop-color="#fbeec4"/><stop offset="1" stop-color="#c39a48"/>
</linearGradient>
<linearGradient id="pin" x1="0" y1="0" x2="0" y2="1">
<stop offset="0" stop-color="#c4c4c4"/><stop offset=".45" stop-color="#9a9a9a"/><stop offset="1" stop-color="#5a5a5a"/>
</linearGradient>
</defs>
<g id="plug">
<!-- latch strip at far left -->
<rect x="602" y="727.500" width="14" height="99" fill="url(#latchG)"/>
<!-- nose top (opaque white part) -->
<path d="M710 709 Q710 706 713 706 L751 705.500 L751 734 L710 734 Z" fill="#f8f8f8" stroke="#e2e2e2" stroke-width="1"/>
<path d="M710 728 H751 V734 H710 Z" fill="#ececec"/>
<!-- nose top (translucent part) -->
<path d="M751 705.500 L790 705 Q793 705 793 708 L793 734 L751 734 Z" fill="#e4e4e4"/>
<path d="M754 708 l9 3 l-3 7 l11 -2 l6 6 l10 -3 M768 707 l8 5 l12 -2 M755 722 l12 5 l10 -3 l12 4" stroke="#f9f9f9" stroke-width="2.200" fill="none"/>
<path d="M758 713 l8 5 M773 719 l9 6 M781 709 l6 4" stroke="#c6c6c6" stroke-width="1.500" fill="none"/>
<path d="M766 706 V734" stroke="#d0d0d0" stroke-width="1.200"/>
<!-- right extension (translucent) -->
<rect x="793" y="733.500" width="29" height="82" fill="#d6d6d6"/>
<rect x="793" y="733.500" width="29" height="8" fill="#ebebeb"/>
<rect x="808" y="741.500" width="14" height="66" fill="#cbcbcb"/>
<rect x="793" y="807" width="29" height="8.500" fill="#e4e4e4"/>
<path d="M808 742 l10 3 M810 806 l9 -4" stroke="#f2f2f2" stroke-width="2" fill="none"/>
<!-- body frame -->
<path d="M615.400 727.400 H751 V839 Q751 847.400 743 847.400 H623.400 Q615.400 847.400 615.400 839 Z" fill="url(#plugBody)" stroke="#dcdcdc" stroke-width="1"/>
<path d="M618 842 Q620 846.500 625 846.800 L742 846.800 Q748 846.500 750 842" stroke="#cfcfcf" stroke-width="1.500" fill="none"/>
<!-- frame shading -->
<rect x="615.900" y="728" width="5" height="112" fill="url(#frL)"/>
<!-- window in the frame -->
<rect x="637" y="734.600" width="42" height="86" fill="#e4e4e4"/>
<rect x="644" y="734.600" width="12.600" height="86" fill="#fdfdfd"/>
<rect x="656.600" y="734.600" width="21" height="86" fill="#d3d3d3"/>
<path d="M661 738 q6 10 2 22 q-3 8 4 14 q5 8 -1 18 q-4 10 3 24" stroke="#e6e6e6" stroke-width="5" fill="none"/>
<path d="M670 740 q4 12 0 26 q-2 10 3 20 q2 12 -2 28" stroke="#c4c4c4" stroke-width="3" fill="none"/>
<rect x="656.600" y="772" width="14" height="5" fill="#ededed"/>
<rect x="656.600" y="796" width="14" height="4" fill="#e4e4e4"/>
<path d="M637.600 734.600 V820.200" stroke="#c4c4c4" stroke-width="1.600" fill="none"/>
<path d="M637 820.200 H679 M637 735 H644" stroke="#bdbdbd" stroke-width="1.400" fill="none"/>
<rect x="677.600" y="734" width="4" height="87" fill="#fafafa"/>
<!-- transparent chamber -->
<rect x="681.600" y="733.400" width="112" height="88" fill="#e4e4e4"/>
<rect x="681.600" y="733.400" width="18" height="88" fill="#cfcfcf"/>
<rect x="699.600" y="733.400" width="12" height="88" fill="#dcdcdc"/>
<rect x="742" y="733.400" width="14" height="88" fill="#ededed"/>
<rect x="751" y="821" width="42" height="23" fill="#e9e9e9"/>
<path d="M754 826 l10 4 l8 -3 l12 5 l7 -2 M756 836 l14 2 l12 -4 l8 3" stroke="#fbfbfb" stroke-width="2.200" fill="none"/>
<path d="M760 831 l8 4 M776 828 l8 5" stroke="#cdcdcd" stroke-width="1.400" fill="none"/>
<path d="M766 821 V844" stroke="#d4d4d4" stroke-width="1.200"/>
<!-- pins -->
<g>
<rect x="699.400" y="744.400" width="74.500" height="4.400" rx="2.200" fill="url(#pin)"/>
<rect x="699.400" y="758.800" width="74.500" height="4.400" rx="2.200" fill="url(#pin)"/>
<rect x="699.400" y="774.400" width="74.500" height="4.400" rx="2.200" fill="url(#pin)"/>
<rect x="699.400" y="790" width="74.500" height="4.400" rx="2.200" fill="url(#pin)"/>
<rect x="699.400" y="805.600" width="74.500" height="4.400" rx="2.200" fill="url(#pin)"/>
</g>
<!-- gold contacts -->
<g>
<rect x="715" y="736" width="25" height="6" fill="url(#gold)"/>
<rect x="715" y="750.300" width="25" height="6" fill="url(#gold)"/>
<rect x="715" y="765.900" width="25" height="6" fill="url(#gold)"/>
<rect x="715" y="781.500" width="25" height="6" fill="url(#gold)"/>
<rect x="715" y="796.900" width="25" height="6" fill="url(#gold)"/>
<rect x="715" y="812" width="25" height="6" fill="url(#gold)"/>
</g>
<!-- wire colours -->
<g>
<rect x="756" y="737" width="22" height="4" rx="2" fill="#c9c9c9"/>
<rect x="757" y="751.500" width="22" height="4.500" rx="2" fill="#555555" opacity=".85"/>
<ellipse cx="782.500" cy="753.500" rx="3.200" ry="5.500" fill="#5e5e5e"/>
<rect x="759" y="766.800" width="18" height="4.500" rx="2" fill="#c8423a" opacity=".8"/>
<ellipse cx="782.500" cy="768.800" rx="3.400" ry="6" fill="#c4302b"/>
<rect x="761" y="782.500" width="16" height="4.500" rx="2" fill="#5cb46c" opacity=".8"/>
<ellipse cx="782.500" cy="784.500" rx="3.400" ry="6" fill="#3fa95a"/>
<rect x="761" y="797.800" width="16" height="4.500" rx="2" fill="#e6d568" opacity=".8"/>
<ellipse cx="782.500" cy="800" rx="3.400" ry="6" fill="#dfca55"/>
<rect x="761" y="813" width="16" height="4.500" rx="2" fill="#3a52ae" opacity=".85"/>
<ellipse cx="782.500" cy="815" rx="3.200" ry="6" fill="#233c9c"/>
</g>
</g>
<!-- DB9 -->
<g id="db9">
<path d="M896 676.500 L976 678.500 Q983 679 982 686 L976 716 Q974.500 723.500 967 723 L905 719.500 Q897.500 719 896 712 L889.500 685 Q888 676.500 896 676.500 Z" fill="#4f80c6"/>
<g fill="#3a66ad">
<circle cx="898.700" cy="690.700" r="6.300"/><circle cx="916.500" cy="690.700" r="6.300"/><circle cx="934.700" cy="690.700" r="6.300"/><circle cx="953.200" cy="690.700" r="6.300"/><circle cx="972.400" cy="690.700" r="6.300"/>
<circle cx="906.900" cy="708.500" r="6.300"/><circle cx="925.600" cy="708.800" r="6.300"/><circle cx="944.300" cy="708.800" r="6.300"/><circle cx="962.800" cy="708.800" r="6.300"/>
</g>
<g fill="#0d1424">
<circle cx="898.700" cy="690.700" r="4.200"/><circle cx="916.500" cy="690.700" r="4.200"/><circle cx="934.700" cy="690.700" r="4.200"/><circle cx="953.200" cy="690.700" r="4.200"/><circle cx="972.400" cy="690.700" r="4.200"/>
<circle cx="906.900" cy="708.500" r="4.200"/><circle cx="925.600" cy="708.800" r="4.200"/><circle cx="944.300" cy="708.800" r="4.200"/><circle cx="962.800" cy="708.800" r="4.200"/>
</g>
<g fill="#3b67ae" font-size="6.500">
<text x="905" y="686.500">5</text><text x="923.200" y="686.500">4</text><text x="941.800" y="686.500">3</text><text x="960.500" y="686.500">2</text>
<text x="912" y="716.500">9</text><text x="931" y="717">8</text><text x="950" y="716.500">7</text><text x="968.500" y="715">6</text>
</g>
</g>
<!-- lines to DB9 and labels -->
<g fill="none" stroke-width="1.600">
<path d="M744.300 738.900 H807.500 L899 691" stroke="#2a47a6"/>
<path d="M744.300 753.300 H807.500 L934.500 691" stroke="#2a47a6"/>
<path d="M744.300 768.900 H807.500 L851 758.500" stroke="#1a1a1a"/>
<path d="M744.300 784.500 H851" stroke="#1a1a1a"/>
<path d="M744.300 799.900 H807.500 L851 812.500" stroke="#1a1a1a"/>
<path d="M744.300 815 H807.500 L851 838.800" stroke="#1a1a1a"/>
</g>
<g>
<circle cx="744.300" cy="738.900" r="4.900" fill="#2f55b5"/>
<circle cx="744.300" cy="753.300" r="4.900" fill="#2f55b5"/>
<circle cx="744.300" cy="768.900" r="4.900" fill="#0a0a0a"/>
<circle cx="744.300" cy="784.500" r="4.900" fill="#0a0a0a"/>
<circle cx="744.300" cy="799.900" r="4.900" fill="#0a0a0a"/>
<circle cx="744.300" cy="815" r="4.900" fill="#0a0a0a"/>
</g>
<g fill="#111" font-size="21" stroke="#ffffff" stroke-width=".4" paint-order="fill stroke">
<text x="865" y="762" textLength="62" lengthAdjust="spacingAndGlyphs">Земля</text>
<text x="864.400" y="791.500" textLength="57" lengthAdjust="spacingAndGlyphs">СТОП</text>
<text x="865.600" y="820.300" textLength="55.700" lengthAdjust="spacingAndGlyphs">ВНИЗ</text>
<text x="865.600" y="848" textLength="61.700" lengthAdjust="spacingAndGlyphs">ВВЕРХ</text>
</g>
<!-- magnifier circle -->
<g id="zoomCircle">
<circle cx="639" cy="628" r="98" fill="#efefef"/>
<g clip-path="url(#zoomClip)">
<rect x="530" y="520" width="220" height="42" fill="#fcfcfc"/>
<rect x="530" y="557" width="220" height="5" fill="url(#zTop)"/>
<rect x="530" y="562" width="220" height="131" fill="#eeeeee"/>
<rect x="530" y="693" width="220" height="50" fill="#f8f8f8"/>
<rect x="530" y="691.500" width="220" height="2" fill="#dcdcdc"/>
<rect x="530" y="708" width="220" height="2" fill="#e2e2e2"/>
<rect x="530" y="710" width="220" height="30" fill="#fdfdfd"/>
<!-- recess shading around socket -->
<rect x="581" y="562" width="100" height="16" fill="url(#zRec)"/>
<rect x="581" y="562" width="15" height="130" fill="url(#zRecL)"/>
<rect x="679" y="562" width="3" height="130" fill="#dedede"/>
<rect x="682" y="562" width="68" height="130" fill="#f3f3f3"/>
<rect x="596" y="677" width="83" height="15" fill="#f6f6f6"/>
<rect x="664" y="693" width="16" height="50" fill="#ececec"/>
<path d="M664.500 693 V740 M679.500 693 V740" stroke="#dadada" stroke-width="1.200"/>
<!-- socket -->
<rect x="596" y="577.200" width="83" height="99.800" fill="#303030"/>
<rect x="597" y="578.200" width="81" height="97.800" fill="none" stroke="#3d3d3d" stroke-width="1.500"/>
<path d="M603 608 H616 V601 H662 V608 H673.500 V648 H666 V658 H659 V666 H652 V675 H622 V666 H616 V658 H610 V648 H603 Z" fill="#141414"/>
<path d="M603 608 H616 V601 H662 V608 H673.500 V648 H666 V658 H659 V666 H652 V675 H622 V666 H616 V658 H610 V648 H603 Z" fill="none" stroke="#424242" stroke-width="1.500"/>
<g fill="#c2a860"><rect x="629.500" y="601.500" width="2" height="5.500"/><rect x="635" y="601.500" width="2" height="5.500"/><rect x="640.500" y="601.500" width="2" height="5.500"/><rect x="646" y="601.500" width="2" height="5.500"/><rect x="651.500" y="601.500" width="2" height="5.500"/></g>
<!-- inserted plug -->
<path d="M609 609 H664 V644 H609 Z" fill="#383838" stroke="#5a5a5a" stroke-width="1.500"/>
<path d="M622 611 H654 L651 622 H625 Z" fill="#4b4b4b"/>
<rect x="626" y="617" width="24" height="2" fill="#222"/>
<!-- jack at left -->
<circle cx="550" cy="627.600" r="19" fill="#d9d9d9"/>
<circle cx="550" cy="627.600" r="17.500" fill="#262626"/>
<circle cx="549" cy="627.600" r="11" fill="#0a0a0a"/>
<circle cx="549.500" cy="627.600" r="14" fill="none" stroke="#3a3a3a" stroke-width="1.500"/>
<rect x="548.500" y="625" width="2.500" height="10" fill="#8f7f5f"/>
<!-- labels -->
<g fill="#d3d3d3" font-weight="bold">
<text x="548" y="595.200" textLength="23.500" lengthAdjust="spacingAndGlyphs" font-size="18.500">RL</text>
<text x="546" y="673.200" textLength="45" lengthAdjust="spacingAndGlyphs" font-size="18.500">XTIR</text>
</g>
<path d="M572.500 585.500 h9 v-4 l8.500 7 l-8.500 7 v-4 h-9 Z" fill="#d3d3d3"/>
<!-- cable -->
<path d="M588 740 L588.400 726 C590.800 702 596.800 678 601.600 658.800 C605 645 612 632 620.800 625.200 Q640 618 659.200 627 C661 631 657 636 654.400 639.600 C649 648 642 662 638.800 673.200 C635 690 631 710 629 730 L629 740 Z" fill="url(#cable)" stroke="#cfcfcf" stroke-width="1"/>
<path d="M626 627 Q640 623 655 629" stroke="#d8d8d8" stroke-width="1.500" fill="none"/>
</g>
<circle cx="639" cy="628" r="98" fill="none" stroke="#e77a1f" stroke-width="6.500"/>
</g>
<path d="M676.500 720 L704 790" stroke="#e77a1f" stroke-width="3.200" fill="none"/>

</svg>
</body>
</html>
